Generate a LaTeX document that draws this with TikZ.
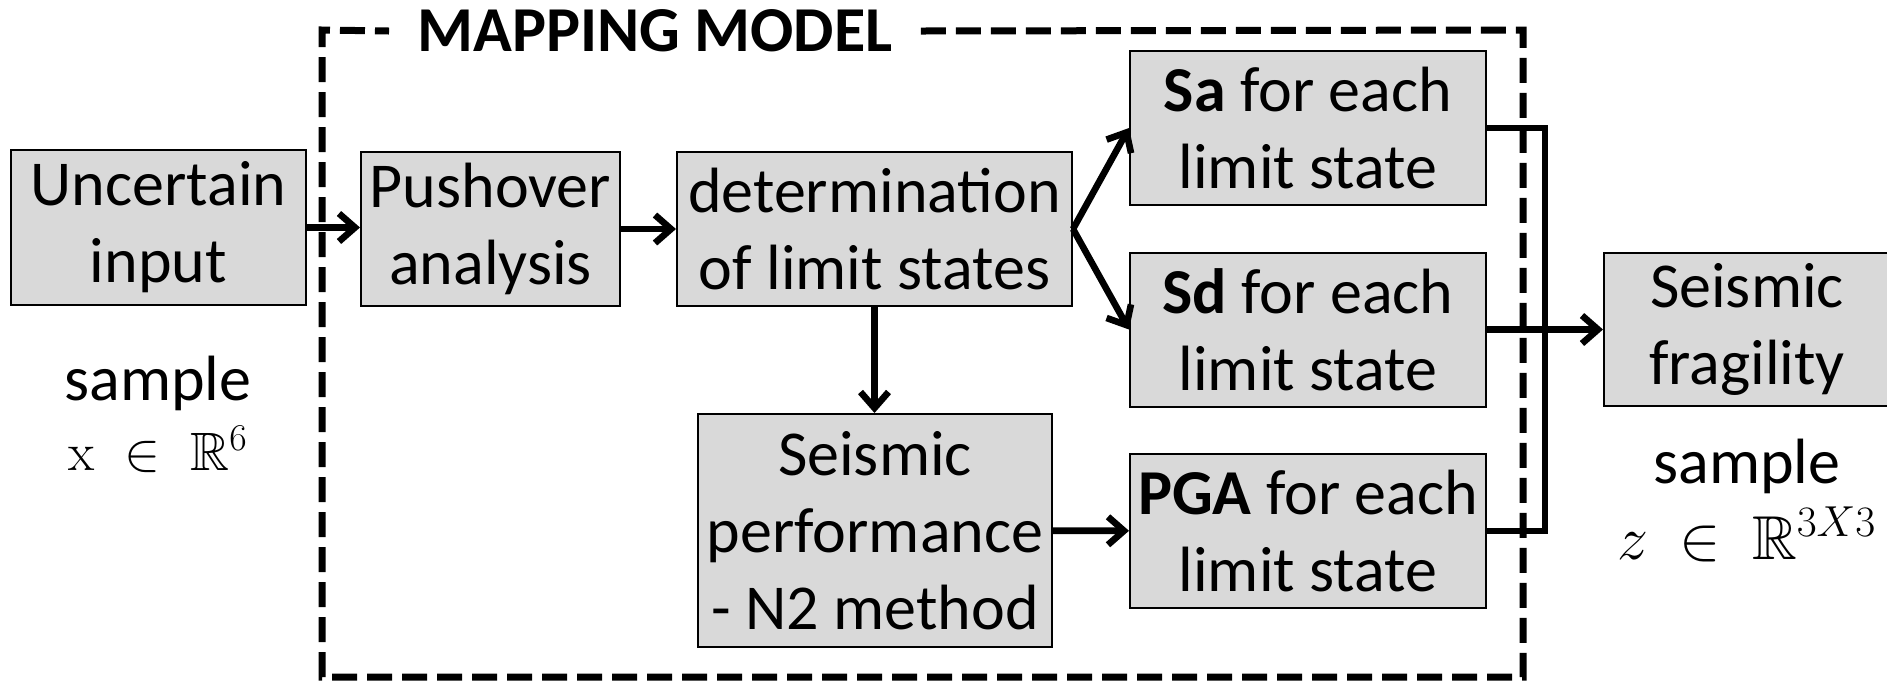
\RequirePackage{fix-cm}
\documentclass[tikz,border=0pt]{standalone}
\usepackage{amsmath,amssymb}
\usepackage[no-math]{fontspec}
\setmainfont{Carlito}
\usetikzlibrary{arrows.meta}
\definecolor{boxgray}{RGB}{217,217,217}
\tikzset{
	graybox/.style={rectangle, draw=black, fill=boxgray, line width=1pt, inner sep=0pt, align=center},
	flow/.style={line width=3.3pt, -{Straight Barb[length=8pt,width=14pt,line width=3.3pt]}},
	link/.style={line width=3.3pt},
	samplelabel/.style={anchor=base, inner sep=0pt}
}
\begin{document}
\begin{tikzpicture}[x=0.5pt,y=-0.5pt, font=\fontsize{32}{38.5}\selectfont]
	\useasboundingbox (0,0) rectangle (1887,682);
	% mapping model frame
	\node[inner xsep=14pt, inner ysep=2pt, font=\fontsize{32}{38}\selectfont\bfseries] (title) at (655,31) {MAPPING MODEL};
	\draw[line width=3.5pt, dash pattern=on 12.5pt off 5pt] (title.east) -- (1523,30) -- (1523,677) -- (322,677) -- (322,30) -- (title.west);
	
	% boxes
	\node[graybox, minimum width=147.5pt, minimum height=77.5pt] (inp) at (158.5,227.5) {Uncertain\\input};
	\node[graybox, minimum width=129.5pt, minimum height=77pt] (push) at (490.5,229) {Pushover\\analysis};
	\node[graybox, minimum width=197.5pt, minimum height=77pt] (det) at (874.5,229) {determination\\of limit states};
	\node[graybox, minimum width=177pt, minimum height=116.5pt] (perf) at (875,530.5) {Seismic\\performance\\- N2 method};
	\node[graybox, minimum width=178pt, minimum height=77pt] (sa) at (1308,128) {\textbf{Sa} for each\\limit state};
	\node[graybox, minimum width=178pt, minimum height=77pt] (sd) at (1308,329.5) {\textbf{Sd} for each\\limit state};
	\node[graybox, minimum width=178pt, minimum height=77pt] (pga) at (1308,531) {\textbf{PGA} for each\\limit state};
	\node[graybox, minimum width=143pt, minimum height=76.5pt] (frag) at (1747,329.5) {Seismic\\fragility};
	
	% samples
	\node[samplelabel] (insample) at (158,400) {sample};
	\node[samplelabel, font=\fontsize{27}{32}\selectfont] (inspace) at (158,470) {$\mathrm{x}\;\in\;\mathbb{R}^6$};
	\node[samplelabel] (outsample) at (1747,483) {sample};
	\node[samplelabel, font=\fontsize{31}{36}\selectfont] (outspace) at (1747,559) {$z\:\in\:\mathbb{R}^{3X3}$};
	
	% connectors
	\draw[flow] (inp.east) -- (inp.east -| push.west);
	\draw[flow] (push) -- (det);
	\draw[flow] (det.south) -- (det.south |- perf.north);
	\draw[flow] (det.east) -- (sa.west);
	\draw[flow] (det.east) -- (sd.west);
	\draw[flow] (perf) -- (pga);
	\coordinate (joint) at (1545,0);
	\draw[link] (sa.east) -- (sa.east -| joint) -- (pga.east -| joint) -- (pga.east);
	\draw[flow] (sd) -- (frag);
\end{tikzpicture}
\end{document}
